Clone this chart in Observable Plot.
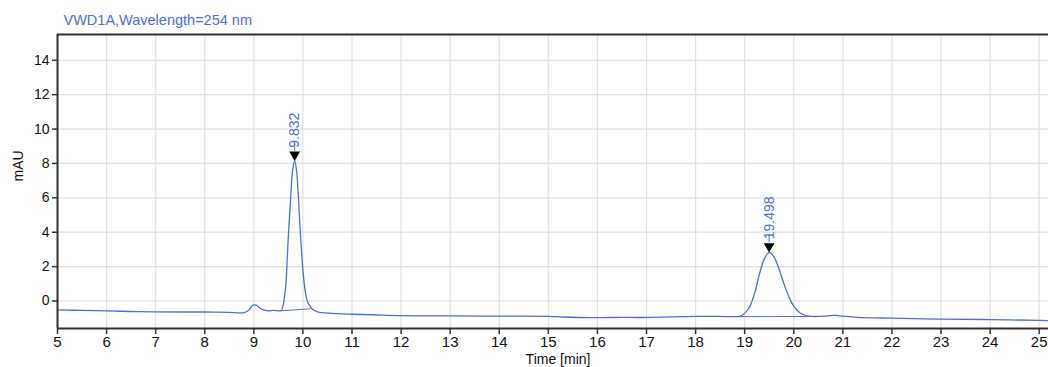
<!DOCTYPE html>
<html>
<head>
<meta charset="utf-8">
<script src="https://cdn.jsdelivr.net/npm/d3@7"></script>
<script src="https://cdn.jsdelivr.net/npm/@observablehq/plot@0.6"></script>
<style>
  html, body { margin: 0; padding: 0; background: #fff; }
  #chart svg { display: block; }
</style>
</head>
<body>
<div id="chart"></div>
<script>
// Chromatogram trace (time in min, signal in mAU)
const times = [5.0, 5.5, 6.0, 6.5, 7.0, 7.5, 8.0, 8.5, 8.8, 8.9, 8.95, 9.0, 9.05, 9.1, 9.2, 9.3, 9.4, 9.5, 9.56,
  9.6, 9.65, 9.7, 9.75, 9.79, 9.832, 9.87, 9.91, 9.95, 10.0, 10.05, 10.1, 10.15, 10.2, 10.3, 10.4, 10.7, 11.0, 11.4,
  12.0, 13.0, 14.0, 15.0, 15.3, 15.9, 16.5, 16.8, 17.5, 18.0, 18.5, 18.8, 18.9, 19.0, 19.1, 19.2, 19.3, 19.4, 19.5,
  19.6, 19.7, 19.8, 19.9, 20.0, 20.1, 20.2, 20.3, 20.5, 20.7, 20.85, 21.0, 21.3, 22.0, 23.0, 24.0, 25.0, 25.2];
const mAU = [-0.52, -0.55, -0.58, -0.61, -0.63, -0.64, -0.64, -0.66, -0.68, -0.52, -0.33, -0.23, -0.24, -0.36, -0.52, -0.57, -0.55, -0.57, -0.55,
  -0.2, 0.9, 3.6, 6.0, 7.6, 8.16, 7.6, 5.9, 3.9, 1.8, 0.5, -0.1, -0.3, -0.5, -0.63, -0.68, -0.74, -0.77, -0.8,
  -0.85, -0.87, -0.88, -0.89, -0.93, -0.97, -0.95, -0.96, -0.92, -0.89, -0.9, -0.91, -0.89, -0.72, -0.35, 0.42, 1.55, 2.45, 2.83,
  2.55, 1.86, 1.0, 0.25, -0.3, -0.62, -0.8, -0.88, -0.9, -0.86, -0.84, -0.88, -0.95, -1.0, -1.05, -1.08, -1.13, -1.14];

// Integration baselines under the peaks
const baseStartT = [9.56, 18.88];
const baseStartV = [-0.57, -0.91];
const baseEndT = [10.16, 20.4];
const baseEndV = [-0.45, -0.9];

// Peak annotations
const peakTimes = [9.832, 19.498];
const peakHeights = [8.16, 2.83];
const peakLabels = ["9.832", "19.498"];

const xTicks = d3.range(5, 26, 1);
const yTicks = [0, 2, 4, 6, 8, 10, 12, 14];
const xDomain = [5, 25.19];
const yDomain = [-1.6, 15.5];

const trace = times.map((t, i) => ({t, v: mAU[i]}));
const baselines = baseStartT.map((t, i) => ({x1: t, y1: baseStartV[i], x2: baseEndT[i], y2: baseEndV[i]}));
const peaks = peakTimes.map((t, i) => ({t, v: peakHeights[i], label: peakLabels[i]}));

const blue = "#4a6fe3";
const font = "Liberation Sans, Arial, sans-serif";

const chart = Plot.plot({
  width: 1048,
  height: 367,
  marginLeft: 57,
  marginRight: 0,
  marginTop: 34,
  marginBottom: 39,
  style: {fontFamily: font, background: "#fff", color: "#111", overflow: "visible"},
  x: {domain: xDomain},
  y: {domain: yDomain},
  marks: [
    Plot.gridX(xTicks, {stroke: "#e2e2e2", strokeOpacity: 1, strokeWidth: 1.2}),
    Plot.gridY(yTicks, {stroke: "#e2e2e2", strokeOpacity: 1, strokeWidth: 1.2}),
    Plot.link(baselines, {x1: "x1", y1: "y1", x2: "x2", y2: "y2", stroke: blue, strokeWidth: 1}),
    Plot.line(trace, {x: "t", y: "v", stroke: blue, strokeWidth: 1.3, curve: "catmull-rom"}),
    Plot.ruleY([yDomain[0]], {stroke: "#333", strokeWidth: 2}),
    Plot.ruleY([yDomain[1]], {stroke: "#333", strokeWidth: 2}),
    Plot.ruleX([xDomain[0]], {stroke: "#333", strokeWidth: 2}),
    Plot.axisX({ticks: xTicks, tickSize: 6, tickPadding: 2, fontSize: 15, label: null, stroke: "#333", strokeWidth: 1.5}),
    Plot.axisY({ticks: yTicks, tickSize: 5, tickPadding: 3, fontSize: 14, label: null, stroke: "#333", strokeWidth: 1.5}),
    // peak arrow shafts
    Plot.ruleX(peaks, {x: "t", y1: d => d.v + 0.55, y2: d => d.v + 1.05, stroke: blue, strokeWidth: 1}),
    // peak arrow heads
    Plot.dot(peaks, {x: "t", y: "v", symbol: "triangle", rotate: 180, r: 4, fill: "#000", stroke: "none", dy: -6}),
    // peak labels
    Plot.text(peaks, {x: "t", y: "v", text: "label", rotate: -90, textAnchor: "start", dy: -13, fill: blue, fontSize: 14}),
    // title
    Plot.text(["VWD1A,Wavelength=254 nm"], {frameAnchor: "top-left", lineAnchor: "middle", dx: 6, dy: -14, textAnchor: "start", fill: blue, fontSize: 14.5}),
    // axis labels
    Plot.text(["mAU"], {frameAnchor: "left", dx: -39, rotate: -90, fill: "#111", fontSize: 14}),
    Plot.text(["Time [min]"], {frameAnchor: "bottom", lineAnchor: "bottom", dx: 5, dy: 35, fill: "#111", fontSize: 14})
  ]
});
document.getElementById("chart").appendChild(chart);
</script>
</body>
</html>
